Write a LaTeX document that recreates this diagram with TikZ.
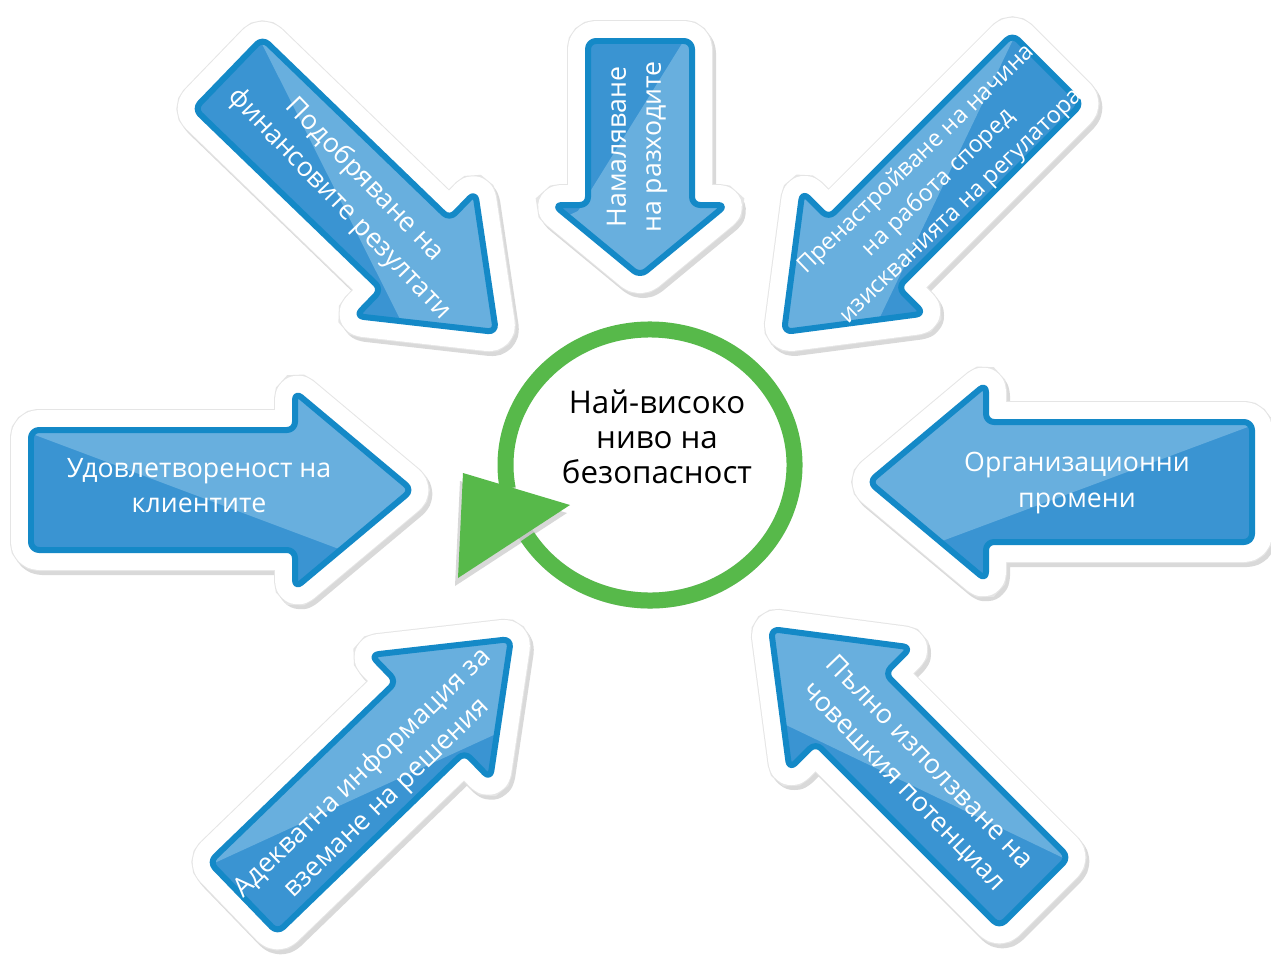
\documentclass[tikz,border=0pt]{standalone}
\usepackage{fontspec}
\setmainfont{Open Sans}
\usetikzlibrary{shapes,arrows,positioning}
\usepackage{xcolor}

\definecolor{rimblue}{RGB}{20,137,199}
\definecolor{bodyblue}{RGB}{58,148,210}
\definecolor{glossblue}{RGB}{110,178,224}
\definecolor{ringgreen}{RGB}{87,185,74}

% tip, direction, length, shaft half width, head length, head half width, gloss side
\newcommand{\bluearrow}[7]{%
  \tikzset{arrowoutline/.style={insert path={(0,0) -- (-#5,#6) -- (-#5,#4) -- (-#3,#4) -- (-#3,-#4) -- (-#5,-#4) -- (-#5,-#6) -- cycle}}}%
  \path[stickershadow, shift={#1}, shift={(3,-4)}, rotate=#2, arrowoutline];
  \path[sticker, shift={#1}, rotate=#2, arrowoutline];
  \begin{scope}[shift={#1}, rotate=#2]
    \path[arrowbody, arrowoutline];
    \begin{scope}
      \clip[rounded corners=0.16cm, arrowoutline];
      \fill[arrowgloss] (-#3-20,{(#7)*(#4+4)}) -- (-65,{-(#7)*62}) -- (-40,{-(#7)*(#6+30)}) -- (30,{-(#7)*(#6+30)}) -- (30,{(#7)*(#6+30)}) -- (-#3-20,{(#7)*(#6+30)}) -- cycle;
    \end{scope}
    \path[arrowrim, arrowoutline];
  \end{scope}}

\begin{document}
\begin{tikzpicture}[x=0.02cm, y=0.02cm]

% Styles
\tikzstyle{stickershadow} = [draw=black, fill=black, opacity=0.15, line width=0.84cm, line join=round, rounded corners=0.16cm]
\tikzstyle{sticker} = [draw=white, fill=white, line width=0.8cm, line join=round, rounded corners=0.16cm, preaction={draw=black!10, line width=0.84cm}]
\tikzstyle{arrowbody} = [fill=bodyblue, rounded corners=0.16cm]
\tikzstyle{arrowgloss} = [fill=glossblue, opacity=0.9]
\tikzstyle{arrowrim} = [draw=rimblue, line width=0.12cm, line join=round, rounded corners=0.16cm]
\tikzstyle{arrowtext} = [text=white, align=center, inner sep=0pt, font=\fontsize{15.2}{20}\selectfont]
\tikzstyle{centretext} = [text=black, align=center, inner sep=0pt, font=\fontsize{17.8}{19.8}\selectfont]
\tikzstyle{ring} = [draw=ringgreen, line width=0.32cm]
\tikzstyle{ringshadow} = [draw=black!30, line width=0.32cm, opacity=0.5]

\fill[white] (0,0) rectangle (1271,-960);
\useasboundingbox (0,0) rectangle (1271,-960);

% Arrows
\bluearrow{(412,-490)}{0}{381}{60}{117}{98}{1}
\bluearrow{(869,-482)}{180}{383}{60}{117}{98}{-1}
\bluearrow{(640,-276)}{270}{235}{52}{71}{86}{1}
\bluearrow{(496,-332)}{-44}{372}{49}{112}{86}{1}
\bluearrow{(784,-332)}{225}{372}{49}{112}{86}{-1}
\bluearrow{(511,-639)}{44}{372}{49}{112}{86}{1}
\bluearrow{(771,-629)}{135}{372}{49}{112}{86}{-1}

% Ring
\coordinate (hub) at (650,-465);
\draw[ringshadow, shift={(-3,-8)}] (hub) ++(190:144.5 and 135.5) arc[start angle=190, end angle=340, x radius=144.5, y radius=135.5];
\fill[black!30, opacity=0.5, shift={(-3,-8)}] (463,-473) -- (570,-505) -- (458,-578) -- cycle;
\draw[ring] (hub) ++(212:144.5 and 135.5) arc[start angle=212, end angle=550, x radius=144.5, y radius=135.5];
\fill[ringgreen] (463,-473) -- (570,-505) -- (458,-578) -- cycle;

% Labels
\node[centretext] (safety) at (657,-437) {Най-високо\\ниво на\\безопасност};
\node[arrowtext] (clients) at (199,-486) {Удовлетвореност на\\клиентите};
\node[arrowtext] (changes) at (1077,-483) {Организационни\\промени};
\node[arrowtext, rotate=90] (costs) at (637,-147) {Намаляване\\на разходите};
\node[arrowtext, rotate=-46] (finance) at (352,-192) {Подобряване на\\финансовите резултати};
\node[arrowtext, rotate=44, font=\fontsize{13.4}{18.4}\selectfont] (regulator) at (939,-183) {Пренастройване на начина\\на работа според\\изискванията на регулатора};
\node[arrowtext, rotate=44] (decisions) at (375,-786) {Адекватна информация за\\вземане на решения};
\node[arrowtext, rotate=-46] (staff) at (916,-775) {Пълно използване на\\човешкия потенциал};

\end{tikzpicture}
\end{document}
